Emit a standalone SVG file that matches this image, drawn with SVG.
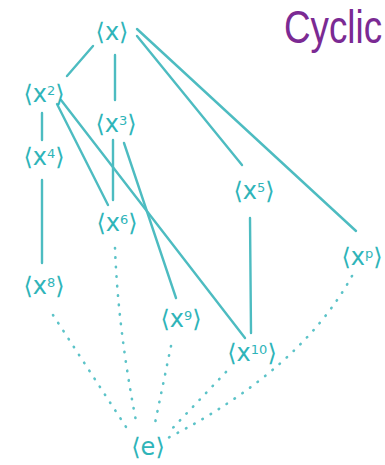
<svg xmlns="http://www.w3.org/2000/svg" width="385" height="465" viewBox="0 0 385 465">
<style>
.n{font-family:"DejaVu Sans","Noto Sans",sans-serif;font-size:24px;fill:#2fb4b9;text-anchor:middle}
.s{font-size:13px}
.l{stroke:#4dbcc1;stroke-width:2.4;fill:none;stroke-linecap:round}
.d{stroke:#5cc3c8;stroke-width:2.6;fill:none;stroke-linecap:round;stroke-dasharray:0.5 9}
.t{font-family:"Liberation Sans",Arial,sans-serif;font-size:40px;fill:#7b2a93}
</style>
<rect width="385" height="465" fill="#ffffff"/>
<text class="t" transform="translate(284,43) scale(0.92,1.15)">Cyclic</text>
<g id="connectors">
<line class="l" x1="93" y1="46" x2="67" y2="76"/>
<line class="l" x1="115" y1="55" x2="115" y2="100"/>
<line class="l" x1="137" y1="36" x2="242" y2="165"/>
<line class="l" x1="137" y1="29" x2="356" y2="231"/>
<line class="l" x1="42" y1="113" x2="42" y2="140"/>
<line class="l" x1="57" y1="104" x2="108" y2="205"/>
<line class="l" x1="61" y1="100" x2="245" y2="338"/>
<line class="l" x1="113" y1="140" x2="113" y2="200"/>
<line class="l" x1="124" y1="143" x2="176" y2="298"/>
<line class="l" x1="42" y1="180" x2="42" y2="263"/>
<line class="l" x1="250" y1="218" x2="251" y2="333"/>
<path class="d" d="M53,315 L128,430"/>
<path class="d" d="M115,248 Q118,330 137,426"/>
<path class="d" d="M171,346 L154,428"/>
<path class="d" d="M226,372 L168,433"/>
<path class="d" d="M352,276 Q300,370 168,438"/>
</g>
<g id="n1"><text class="n" x="112" y="40">⟨x⟩</text></g>
<g id="n2"><text class="n" x="44" y="102">⟨x<tspan class="s" baseline-shift="super">2</tspan>⟩</text></g>
<g id="n3"><text class="n" x="116" y="132">⟨x<tspan class="s" baseline-shift="super">3</tspan>⟩</text></g>
<g id="n4"><text class="n" x="44" y="165">⟨x<tspan class="s" baseline-shift="super">4</tspan>⟩</text></g>
<g id="n6"><text class="n" x="117" y="231">⟨x<tspan class="s" baseline-shift="super">6</tspan>⟩</text></g>
<g id="n5"><text class="n" x="254" y="199">⟨x<tspan class="s" baseline-shift="super">5</tspan>⟩</text></g>
<g id="np"><text class="n" x="362" y="265">⟨x<tspan class="s" baseline-shift="super">p</tspan>⟩</text></g>
<g id="n8"><text class="n" x="44" y="294">⟨x<tspan class="s" baseline-shift="super">8</tspan>⟩</text></g>
<g id="n9"><text class="n" x="181" y="327">⟨x<tspan class="s" baseline-shift="super">9</tspan>⟩</text></g>
<g id="n10"><text class="n" x="252" y="361">⟨x<tspan class="s" baseline-shift="super">10</tspan>⟩</text></g>
<g id="ne"><text class="n" x="148" y="455">⟨e⟩</text></g>
</svg>
